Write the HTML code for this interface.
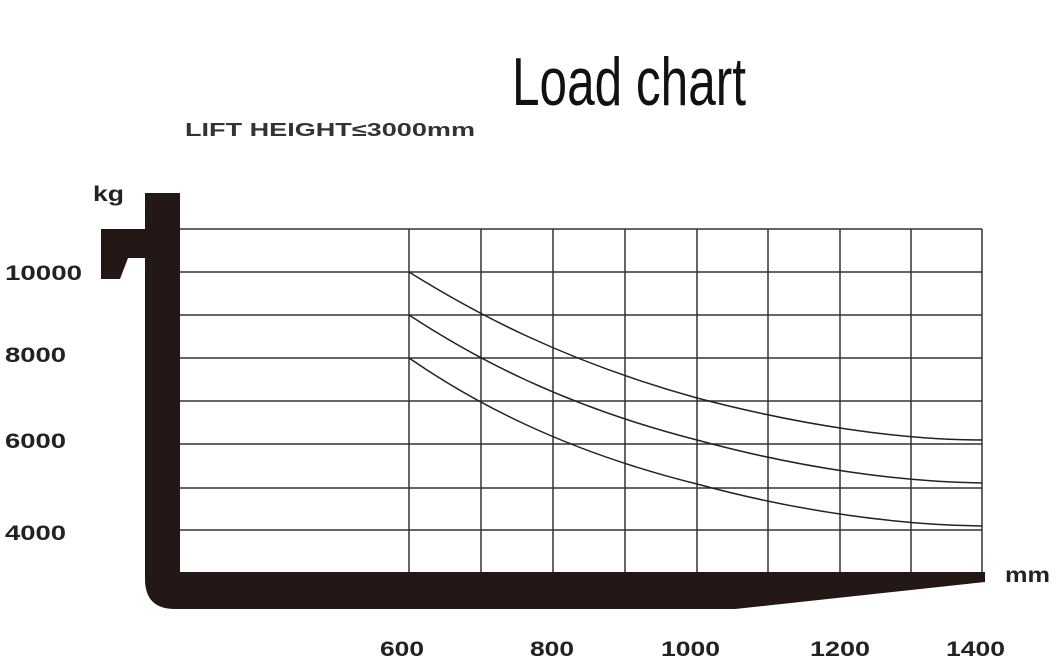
<!DOCTYPE html>
<html><head><style>body{margin:0;background:#fff}</style></head><body>
<svg width="1059" height="663" viewBox="0 0 1059 663" xmlns="http://www.w3.org/2000/svg">
<rect width="1059" height="663" fill="#fff"/>
<text x="512" y="105" font-family="Liberation Sans, sans-serif" font-size="68" textLength="234" lengthAdjust="spacingAndGlyphs" fill="#111">Load chart</text>
<text x="185" y="136" font-family="Liberation Sans, sans-serif" font-weight="bold" font-size="18" textLength="290" lengthAdjust="spacingAndGlyphs" fill="#333">LIFT HEIGHT≤3000mm</text>
<g font-family="Liberation Sans, sans-serif" font-weight="bold" font-size="21" fill="#222" lengthAdjust="spacingAndGlyphs">
<text x="93" y="201" textLength="31" lengthAdjust="spacingAndGlyphs">kg</text>
<text x="5" y="280" textLength="77" lengthAdjust="spacingAndGlyphs">10000</text>
<text x="5" y="362" textLength="61" lengthAdjust="spacingAndGlyphs">8000</text>
<text x="5" y="448" textLength="61" lengthAdjust="spacingAndGlyphs">6000</text>
<text x="5" y="540" textLength="61" lengthAdjust="spacingAndGlyphs">4000</text>
<text x="380" y="656" textLength="44" lengthAdjust="spacingAndGlyphs">600</text>
<text x="530" y="656" textLength="44" lengthAdjust="spacingAndGlyphs">800</text>
<text x="661" y="656" textLength="59" lengthAdjust="spacingAndGlyphs">1000</text>
<text x="810" y="656" textLength="60" lengthAdjust="spacingAndGlyphs">1200</text>
<text x="946" y="656" textLength="59" lengthAdjust="spacingAndGlyphs">1400</text>
<text x="1005" y="582" textLength="45" lengthAdjust="spacingAndGlyphs">mm</text>
</g>
<g stroke="#333" stroke-width="1.5" fill="none">
<path d="M180 229H982M180 272H982M180 315H982M180 358H982M180 401H982M180 444H982M180 488H982M180 530H982"/>
<path d="M409 229V572M481 229V572M553 229V572M625 229V572M697 229V572M768 229V572M840 229V572M911 229V572M982 229V572"/>
</g>
<g stroke="#222" stroke-width="1.5" fill="none">
<path d="M409 272 C470 310 560 360 697 398 C800 425 900 440 982 440"/>
<path d="M409 315 C470 355 560 405 697 440 C800 468 900 482 982 483"/>
<path d="M409 358 C470 400 560 450 697 484 C800 512 900 525 982 526"/>
</g>
<path fill="#231815" d="M145 193H180V572H985V582L735 609H175Q145 609 145 579Z"/>
<path fill="#231815" d="M101 229H145V258H128L120 279H101Z"/>
</svg>
</body></html>
